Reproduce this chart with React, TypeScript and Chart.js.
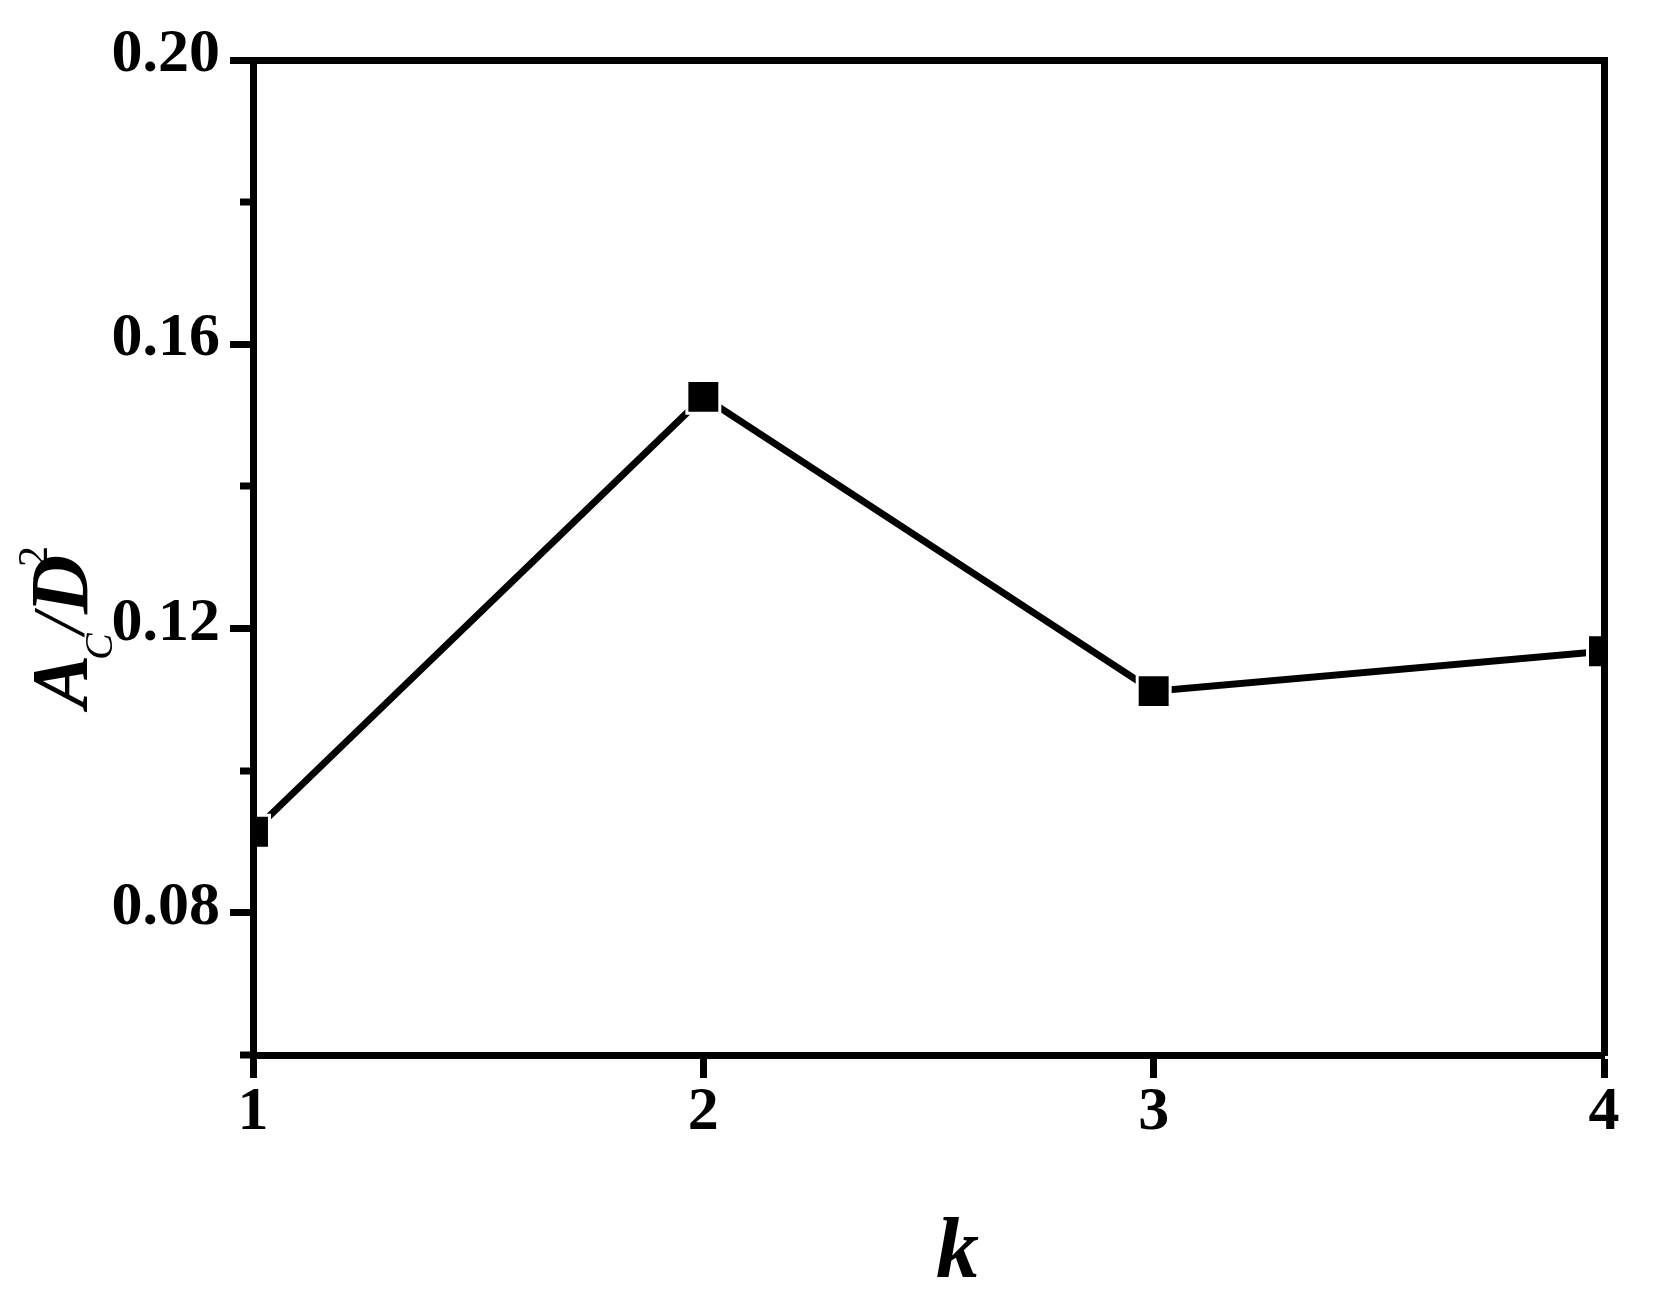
import React, { useEffect, useRef } from "react";
import { Chart, registerables } from "chart.js";

Chart.register(...registerables);

// ---- data ----
const kValues = [1, 2, 3, 4];
const acOverD2 = [0.0914, 0.1526, 0.1112, 0.1168];
const xTickLabels = ["1", "2", "3", "4"];
const yMajorTicks = [0.08, 0.12, 0.16, 0.2];
const yMinorTicks = [0.06, 0.1, 0.14, 0.18];
const yMin = 0.06;
const yMax = 0.2;
const xTitle = "k";

const FAM = '"Liberation Serif", "Times New Roman", Times, serif';
const W = 1659;
const H = 1306;
const AXIS_W = 7;

const isMajor = (v: number) => yMajorTicks.some((m) => Math.abs(m - v) < 1e-9);

const titlesPlugin = {
  id: "titlesPlugin",
  afterDraw(chart: any) {
    const ctx = chart.ctx as CanvasRenderingContext2D;
    const yScale = chart.scales.y;
    // minor ticks on the left axis
    ctx.save();
    ctx.strokeStyle = "#000";
    ctx.lineWidth = AXIS_W;
    yMinorTicks.forEach((v) => {
      const py = Math.round(yScale.getPixelForValue(v));
      ctx.beginPath();
      ctx.moveTo(yScale.right - 13, py);
      ctx.lineTo(yScale.right, py);
      ctx.stroke();
    });
    ctx.restore();

    // y title: A_C / D^2 (rotated)
    ctx.save();
    ctx.fillStyle = "#000";
    ctx.textAlign = "left";
    ctx.textBaseline = "alphabetic";
    ctx.translate(87, 712);
    ctx.rotate(-Math.PI / 2);
    ctx.font = `italic bold 80px ${FAM}`;
    ctx.fillText("A", 4, 0);
    ctx.font = `italic 40px ${FAM}`;
    ctx.fillText("C", 52, 25);
    ctx.font = `italic 74px ${FAM}`;
    ctx.fillText("/", 78, -3);
    ctx.font = `italic bold 82px ${FAM}`;
    ctx.fillText("D", 98, 0);
    ctx.font = `42px ${FAM}`;
    ctx.fillText("2", 145, -40);
    ctx.restore();

    // x title
    ctx.save();
    ctx.fillStyle = "#000";
    ctx.textAlign = "center";
    ctx.textBaseline = "alphabetic";
    ctx.font = `italic bold 86px ${FAM}`;
    const xs = chart.scales.x;
    ctx.fillText(xTitle, (xs.left + xs.right) / 2 + 29, 1277);
    ctx.restore();
  },
};

export default function App() {
  const canvasRef = useRef<HTMLCanvasElement | null>(null);

  useEffect(() => {
    document.body.style.margin = "0";
    const canvas = canvasRef.current;
    if (!canvas) return;
    let chart: Chart | null = null;
    let cancelled = false;

    const build = () => {
      if (cancelled) return;
      const borderOpts = { display: true, color: "#000", width: AXIS_W, z: 1 };
      chart = new Chart(canvas, {
        type: "line",
        data: {
          datasets: [
            {
              data: kValues.map((k, i) => ({ x: k, y: acOverD2[i] })),
              borderColor: "#000",
              borderWidth: 7,
              tension: 0,
              fill: false,
              pointStyle: "rect",
              pointRadius: 23.3,
              pointHoverRadius: 23.3,
              pointBackgroundColor: "#000",
              pointBorderColor: "#fff",
              pointBorderWidth: 3,
              pointHoverBorderWidth: 3,
              clip: 0,
            } as any,
          ],
        },
        options: {
          animation: false,
          responsive: false,
          devicePixelRatio: 1,
          layout: { padding: 0 },
          plugins: {
            legend: { display: false },
            tooltip: { enabled: false },
            title: { display: false },
          },
          events: [],
          scales: {
            x: {
              type: "linear",
              position: "bottom",
              min: kValues[0],
              max: kValues[kValues.length - 1],
              afterBuildTicks: (s: any) => {
                s.ticks = kValues.map((v) => ({ value: v }));
              },
              afterFit: (s: any) => {
                s.height = H - 1055;
              },
              ticks: {
                callback: (_v: any, i: number) => xTickLabels[i],
                color: "#000",
                font: { family: FAM, size: 62, weight: "bold", lineHeight: 1 },
                padding: 4,
                maxRotation: 0,
                autoSkip: false,
              },
              grid: {
                display: true,
                drawOnChartArea: false,
                drawTicks: true,
                tickLength: 23,
                tickWidth: AXIS_W,
                tickColor: "#000",
                z: 1,
              },
              border: borderOpts,
            },
            x2: {
              type: "linear",
              position: "top",
              min: kValues[0],
              max: kValues[kValues.length - 1],
              afterFit: (s: any) => {
                s.height = 60;
              },
              ticks: { display: false },
              grid: { display: false, drawTicks: false, drawOnChartArea: false, z: 1 },
              border: borderOpts,
            },
            y: {
              type: "linear",
              position: "left",
              min: yMin,
              max: yMax,
              afterBuildTicks: (s: any) => {
                s.ticks = [...yMinorTicks, ...yMajorTicks]
                  .sort((a, b) => a - b)
                  .map((v) => ({ value: v }));
              },
              afterFit: (s: any) => {
                s.width = 253;
              },
              ticks: {
                callback: (v: any) => (isMajor(Number(v)) ? Number(v).toFixed(2) : ""),
                color: "#000",
                font: { family: FAM, size: 62, weight: "bold" },
                padding: 10,
                labelOffset: -5,
                autoSkip: false,
              },
              grid: {
                display: true,
                drawOnChartArea: false,
                drawTicks: true,
                tickLength: 23,
                tickWidth: AXIS_W,
                tickColor: (c: any) =>
                  c.tick && isMajor(c.tick.value) ? "#000" : "rgba(0,0,0,0)",
                z: 1,
              },
              border: borderOpts,
            },
            y2: {
              type: "linear",
              position: "right",
              min: yMin,
              max: yMax,
              afterFit: (s: any) => {
                s.width = W - 1604;
              },
              ticks: { display: false },
              grid: { display: false, drawTicks: false, drawOnChartArea: false, z: 1 },
              border: borderOpts,
            },
          },
        } as any,
        plugins: [titlesPlugin],
      });
    };

    const fontsToLoad = [
      `bold 62px "Liberation Serif"`,
      `italic bold 78px "Liberation Serif"`,
      `italic 40px "Liberation Serif"`,
      `42px "Liberation Serif"`,
    ];
    const fs: any = (document as any).fonts;
    if (fs && fs.load) {
      Promise.all(fontsToLoad.map((f) => fs.load(f).catch(() => null)))
        .then(() => build())
        .catch(() => build());
    } else {
      build();
    }

    return () => {
      cancelled = true;
      if (chart) chart.destroy();
    };
  }, []);

  return (
    <div style={{ width: W, height: H, background: "#fff", fontFamily: FAM }}>
      <canvas ref={canvasRef} width={W} height={H} style={{ display: "block" }} />
    </div>
  );
}
